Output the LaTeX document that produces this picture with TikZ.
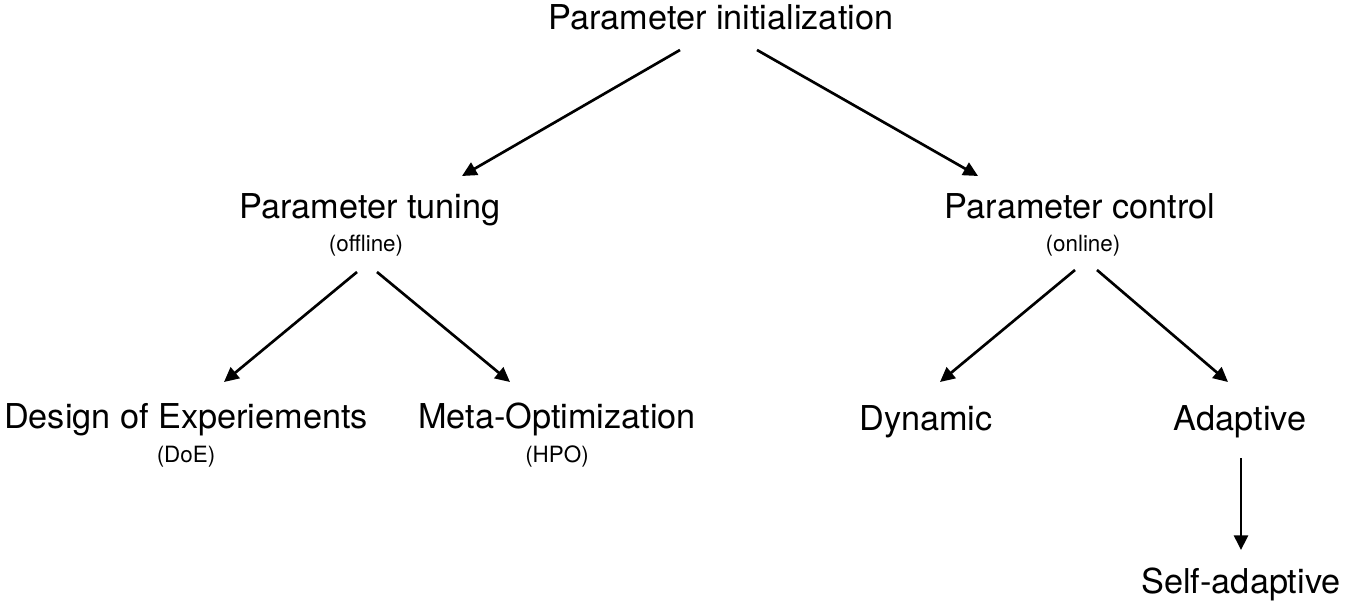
\documentclass[tikz,border=0pt]{standalone}
\usepackage{fontspec}
\setmainfont{TeX Gyre Heros}
\usetikzlibrary{arrows.meta,calc}
\begin{document}
\begin{tikzpicture}[x=0.75pt,y=-0.75pt,
  big/.style={inner sep=0pt,anchor=base,font=\fontsize{25.7}{31}\selectfont},
  small/.style={inner sep=0pt,anchor=base,font=\fontsize{16.8}{20}\selectfont},
  arr/.style={line width=2pt,-{Triangle[length=11pt,width=10.5pt]}}]
\useasboundingbox (0,0) rectangle (1352,606);
\node[big] (init) at (721,30) {Parameter initialization};
\node[big] (tuning) at (370,218) {Parameter tuning};
\node[small] (offline) at (366,251) {(offline)};
\node[big] (control) at (1080,218) {Parameter control};
\node[small] (online) at (1083,251) {(online)};
\node[big] (doe) at (186,428) {Design of Experiements};
\node[small] (does) at (186,462) {(DoE)};
\node[big] (meta) at (557,428) {Meta-Optimization};
\node[small] (hpo) at (557,462) {(HPO)};
\node[big] (dyn) at (926,430) {Dynamic};
\node[big] (adapt) at (1240,430) {Adaptive};
\node[big] (self) at (1241,593) {Self-adaptive};
\draw[arr] ($(init.base)+(-41,20)$) -- ($(tuning.base)+(92,-42)$);
\draw[arr] ($(init.base)+(36,20)$) -- ($(control.base)+(-102,-42)$);
\draw[arr] ($(offline.base)+(-9,21)$) -- ($(doe.base)+(38,-46)$);
\draw[arr] ($(offline.base)+(11,21)$) -- ($(meta.base)+(-47,-46)$);
\draw[arr] ($(online.base)+(-8,19)$) -- ($(dyn.base)+(14,-48)$);
\draw[arr] ($(online.base)+(14,19)$) -- ($(adapt.base)+(-12,-48)$);
\draw[arr] ($(adapt.base)+(1,28)$) -- ($(self.base)+(0,-43)$);
\end{tikzpicture}
\end{document}
